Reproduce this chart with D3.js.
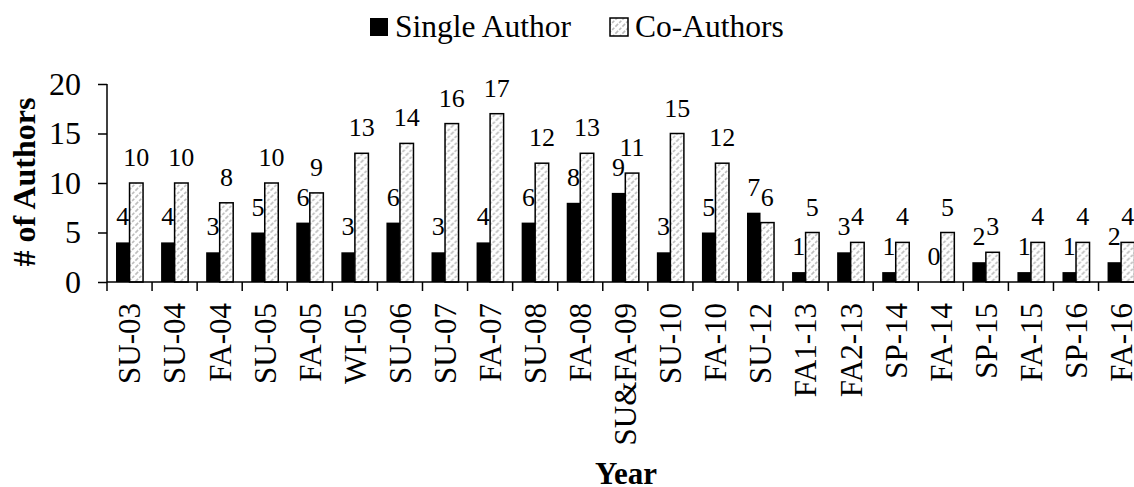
<!DOCTYPE html>
<html>
<head>
<meta charset="utf-8">
<script src="https://cdn.jsdelivr.net/npm/d3@7"></script>
<style>
  body { margin: 0; background: #fff; }
  svg { display: block; font-family: "Liberation Serif", "Times New Roman", serif; }
</style>
</head>
<body>
<svg width="1134" height="487"></svg>
<script>
var svg = d3.select("svg");

var categories = ["SU-03", "SU-04", "FA-04", "SU-05", "FA-05", "WI-05", "SU-06", "SU-07",
    "FA-07", "SU-08", "FA-08", "SU&FA-09", "SU-10", "FA-10", "SU-12", "FA1-13", "FA2-13",
    "SP-14", "FA-14", "SP-15", "FA-15", "SP-16", "FA-16"];
var singleAuthor = [4, 4, 3, 5, 6, 3, 6, 3, 4, 6, 8, 9, 3, 5, 7, 1, 3, 1, 0, 2, 1, 1, 2];
var coAuthors = [10, 10, 8, 10, 9, 13, 14, 16, 17, 12, 13, 11, 15, 12, 6, 5, 4, 4, 5, 3, 4, 4, 4];
var seriesNames = ["Single Author", "Co-Authors"];
var yTicks = [0, 5, 10, 15, 20];

var plotLeft = 107, plotBottom = 282, plotTop = 84;
var step = 45.07;

// hatch for the co-author bars
var defs = svg.append("defs");
var pat = defs.append("pattern")
    .attr("id", "hatch")
    .attr("patternUnits", "userSpaceOnUse")
    .attr("width", 7)
    .attr("height", 7);
pat.append("rect").attr("width", 7).attr("height", 7).attr("fill", "#fff");
pat.append("path")
    .attr("d", "M-1,8 L8,-1 M-1,1 L1,-1 M6,8 L8,6")
    .attr("stroke", "#bdbdbd")
    .attr("stroke-width", 1.6)
    .attr("stroke-dasharray", "3,1.5");

var x0 = d3.scaleBand()
    .domain(categories)
    .range([plotLeft, plotLeft + step * categories.length])
    .paddingInner(0.4)
    .paddingOuter(0.2);

var x1 = d3.scaleBand()
    .domain(seriesNames)
    .range([0, x0.bandwidth()]);

var y = d3.scaleLinear().domain([0, 20]).range([plotBottom, plotTop]);

var rows = categories.map(function (c, i) {
    return { cat: c, vals: [{ s: seriesNames[0], v: singleAuthor[i] }, { s: seriesNames[1], v: coAuthors[i] }] };
});

var fills = { "Single Author": "#000", "Co-Authors": "url(#hatch)" };

var groups = svg.append("g")
    .selectAll("g")
    .data(rows)
    .enter().append("g")
    .attr("transform", function (d) { return "translate(" + x0(d.cat) + ",0)"; });

groups.selectAll("rect")
    .data(function (d) { return d.vals; })
    .enter().append("rect")
    .attr("x", function (d) { return x1(d.s); })
    .attr("y", function (d) { return y(d.v); })
    .attr("width", x1.bandwidth())
    .attr("height", function (d) { return plotBottom - y(d.v); })
    .attr("fill", function (d) { return fills[d.s]; })
    .attr("stroke", function (d) { return d.s == "Co-Authors" && d.v > 0 ? "#000" : "none"; })
    .attr("stroke-width", 1.5);

groups.selectAll("text")
    .data(function (d) { return d.vals; })
    .enter().append("text")
    .attr("x", function (d) { return x1(d.s) + x1.bandwidth() / 2; })
    .attr("y", function (d) { return y(d.v) - 17; })
    .attr("text-anchor", "middle")
    .attr("font-size", 26)
    .text(function (d) { return d.v; });

// y axis
var yAxis = svg.append("g")
    .attr("transform", "translate(" + plotLeft + ",0)")
    .call(d3.axisLeft(y).tickValues(yTicks).tickSize(9).tickPadding(17));
yAxis.select(".domain").attr("stroke-width", 1.5).attr("d", "M0," + plotTop + "V" + plotBottom);
yAxis.selectAll(".tick line").attr("stroke-width", 1.5);
yAxis.selectAll("text")
    .attr("font-family", "Liberation Serif, Times New Roman, serif")
    .attr("font-size", 32)
    .attr("fill", "#000");

// x axis: ticks between categories
var xAxis = svg.append("g");
xAxis.append("line")
    .attr("x1", plotLeft).attr("x2", x0.range()[1])
    .attr("y1", plotBottom).attr("y2", plotBottom)
    .attr("stroke", "#000").attr("stroke-width", 1.5);
xAxis.selectAll(".tk")
    .data(d3.range(categories.length + 1))
    .enter().append("line")
    .attr("class", "tk")
    .attr("x1", function (i) { return plotLeft + i * x0.step(); })
    .attr("x2", function (i) { return plotLeft + i * x0.step(); })
    .attr("y1", plotBottom).attr("y2", plotBottom + 9)
    .attr("stroke", "#000").attr("stroke-width", 1.5);
xAxis.selectAll(".lbl")
    .data(categories)
    .enter().append("text")
    .attr("class", "lbl")
    .attr("transform", function (d) {
        return "translate(" + (x0(d) + x0.bandwidth() / 2) + "," + 303 + ") rotate(-90)";
    })
    .attr("text-anchor", "end")
    .attr("dy", "0.35em")
    .attr("font-size", 31)
    .text(function (d) { return d; });

// axis titles
svg.append("text")
    .attr("transform", "translate(35,182) rotate(-90)")
    .attr("text-anchor", "middle")
    .attr("font-size", 32)
    .attr("font-weight", "bold")
    .text("# of Authors");

svg.append("text")
    .attr("x", 626)
    .attr("y", 484)
    .attr("text-anchor", "middle")
    .attr("font-size", 31)
    .attr("font-weight", "bold")
    .text("Year");

// legend
var legendX = [370, 610];
var legend = svg.append("g")
    .selectAll("g")
    .data(seriesNames)
    .enter().append("g")
    .attr("transform", function (d, i) { return "translate(" + legendX[i] + ",18)"; });
legend.append("rect")
    .attr("width", 18).attr("height", 18)
    .attr("fill", function (d) { return fills[d]; })
    .attr("stroke", function (d) { return d == "Co-Authors" ? "#000" : "none"; })
    .attr("stroke-width", 1.5);
legend.append("text")
    .attr("x", 25)
    .attr("y", 19)
    .attr("font-size", 31.5)
    .text(function (d) { return d; });
</script>
</body>
</html>
